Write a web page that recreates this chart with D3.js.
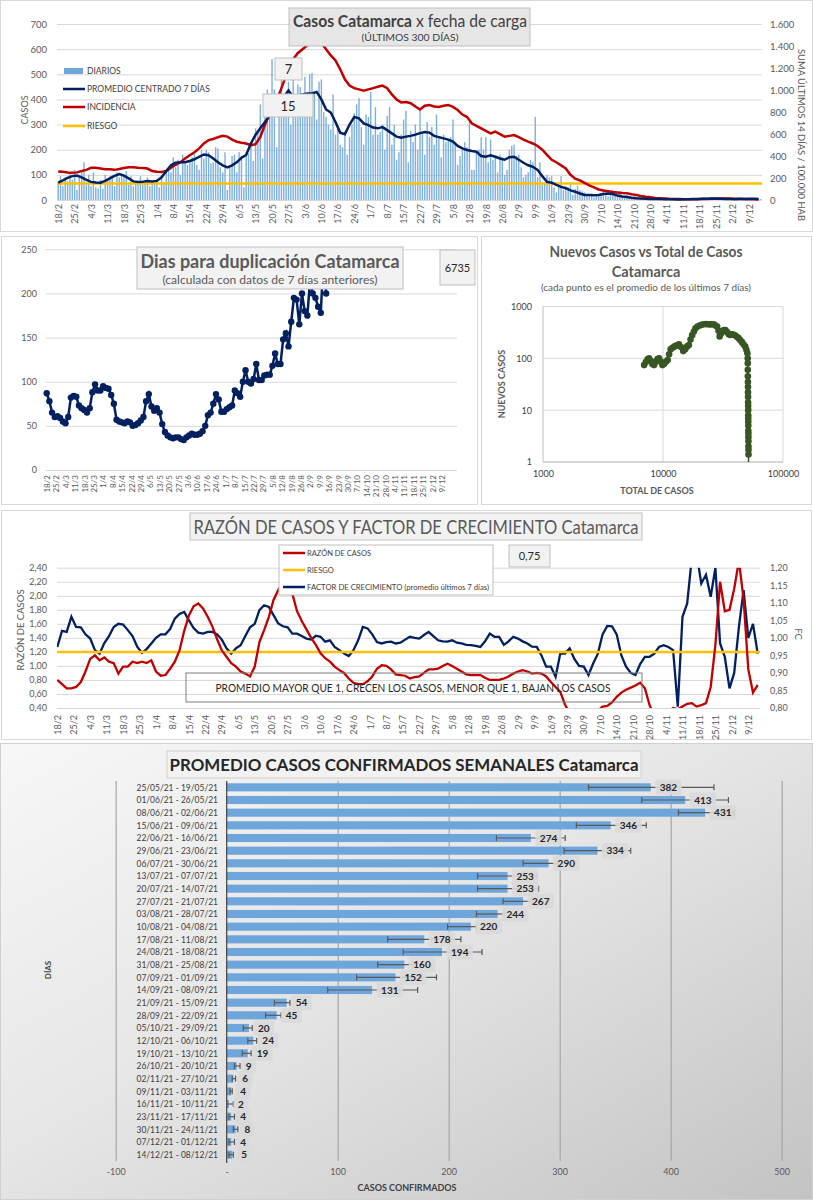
<!DOCTYPE html>
<html><head><meta charset="utf-8">
<script src="https://cdn.jsdelivr.net/npm/d3@7"></script>
<style>body{margin:0;background:#fff;overflow:hidden}svg{display:block}</style>
</head><body>
<svg id="chart" width="813" height="1200"></svg>
<script>
// ================= DATA =================
const dateTicks = ["18/2","25/2","4/3","11/3","18/3","25/3","1/4","8/4","15/4","22/4","29/4","6/5","13/5","20/5","27/5","3/6","10/6","17/6","24/6","1/7","8/7","15/7","22/7","29/7","5/8","12/8","19/8","26/8","2/9","9/9","16/9","23/9","30/9","7/10","14/10","21/10","28/10","4/11","11/11","18/11","25/11","2/12","9/12"];

// daily cases, 18/2 .. 14/12 (300 days)
const diarios = [
70,95,55,90,75,105,80, 120,40,95,110,150,60,100, 55,110,50,45,80,45,100, 85,95,100,55,110,90,105,
100,115,60,95,55,75,70, 95,60,70,90,55,75,65, 85,50,95,70,120,130,110, 170,130,160,100,180,150,140,
150,170,185,140,120,200,165, 200,190,145,150,210,205,130, 110,190,40,130,175,180,110, 190,175,50,190,185,230,155,
285,270,380,165,420,440,360, 560,440,210,430,480,380,370, 470,300,500,330,460,450,350, 490,330,500,505,430,320,470,
480,350,330,300,280,420,260, 290,220,210,260,180,250,300, 345,380,405,290,220,340,330, 430,260,370,260,270,300,200,
335,370,220,300,160,190,260, 320,355,150,275,230,300,200, 360,270,180,310,250,290,220, 340,250,170,260,230,240,250,
320,230,140,175,200,230,210, 310,120,120,190,200,250,200, 250,150,240,160,170,110,180, 170,100,120,200,215,220,175,
180,130,90,100,110,160,150, 330,90,150,60,70,100,90, 95,50,30,60,95,40,55, 50,70,20,45,55,40,35,
30,15,20,25,10,18,20, 20,35,25,15,30,40,20, 25,35,15,10,20,15,12, 10,8,12,5,10,8,6,
6,5,8,3,7,4,5, 4,3,5,2,6,3,4, 2,1,3,2,4,5,3, 4,6,3,5,8,10,7, 12,8,6,10,5,7,4, 3,5,4,2,6,4,5, 6,4,7,3,5,4];

// centred 7-day average, one value every 2 days (day 0,2,4,...)
const promedio7 = [69,78,88,95,97,90,80,72,70,69, 76,86,96,103,97,86,74,72,73,76, 74,76,90,115,138,148,150,150,155,162,
172,181,178,165,150,138,130,138,150,168, 179,225,260,285,310,336,350,375,410,435, 410,416,420,424,424,430,400,360,348,310,
268,262,300,330,325,305,298,288,285,290, 278,265,252,248,252,255,260,266,270,268, 255,250,245,240,232,215,205,199,195,192,
175,172,178,172,165,160,170,172,160,148, 138,132,120,95,72,69,60,52,47,38, 33,26,20,20,19,20,24,26,24,18,
14,12,9,7,6,5,4,4,4,3, 3,3,2,3,3,4,4,5,5,6, 5,5,4,4,3,4,4,5,5,4];

// incidence: 14-day sum per 100.000 inhabitants, every 2 days
const incidencia = [258,256,251,247,251,263,274,293,293,286, 279,279,274,281,290,297,297,293,290,286, 263,256,254,263,293,320,343,377,407,434,
469,514,544,555,571,583,576,549,530,521, 514,498,507,571,686,777,857,960,1074,1189, 1280,1337,1371,1406,1440,1463,1429,1371,1314,1269,
1189,1097,1040,1017,1006,994,1006,1017,1029,1040, 1017,960,914,887,891,880,850,823,857,864, 850,846,857,864,846,818,777,754,697,674,
651,629,606,622,599,576,583,590,571,549, 530,514,491,457,411,366,343,315,286,229, 194,178,155,133,114,96,87,80,73,69,
64,62,53,46,37,30,25,18,16,14, 11,9,9,7,7,7,7,9,9,11, 14,14,14,14,11,11,9,7,7,5];
const riesgoIncidencia = 150;
const topCallouts = ["7","15"];

// doubling days (every 2 days, until 15/9)
const duplicacion = [87,78,65,60,61,59,55,53,60,82, 84,83,73,70,68,65,70,88,97,90, 90,95,93,92,85,75,57,55,54,53,
55,54,50,51,53,56,60,78,86,72, 67,70,65,52,43,39,37,36,37,37, 35,34,37,39,41,40,40,41,44,50,
62,65,75,86,80,66,66,69,71,73, 90,87,83,100,113,100,98,103,120,102, 102,107,108,108,118,132,120,120,148,155,
140,168,195,193,165,200,180,175,215,200, 195,185,178,240,200];
const duplicacionUltimo = "6735";

// new cases (7-day mean) vs total cases
const scatterTotal = [6960,7200,7450,7650,7900,8150,8420,8700,9000,9270, 9550,9890,10200,10600,10940,11250,11580,12000,12500,13000,
13570,14100,14750,15300,15900,16420,16960,17500,18100,18650, 19400,20200,21000,21850,22800,23700,24600,25500,26450,27300,
28250,29000,29670,30500,31500,32300,33100,34200,35300,36400, 37600,38800,40000,41300,42600,44000,45500,47000,48500,49600,
50500,50800,50850,50900,50950,51000,51050,51100,51150,51200, 51250,51280,51310,51340,51370,51400,51430,51460,51490,51520,
51550,51580,51600,51620];
const scatterNew = [74,85,96,100,90,78,74,85,97,100, 88,74,78,86,93,120,150,160,170,178, 186,165,138,150,170,181,230,280,330,380,
410,430,445,455,458,455,452,455,455,430, 410,340,265,300,340,350,353,320,290,283, 290,285,275,260,245,226,205,185,168,145,
125,100,80,60,45,35,28,22,18,14, 12,10,8,7,6,5,4,3.5,3,2.5, 2,1.7,1.4,0.8];

// razón de casos (left axis) and factor de crecimiento (right axis), every 2 days
const razon = [0.80,0.74,0.68,0.68,0.70,0.77,0.92,1.10,1.15,1.08, 1.12,1.06,1.04,0.89,0.99,0.99,1.06,1.04,1.06,1.04,
1.08,0.92,0.86,0.87,0.96,1.06,1.22,1.50,1.72,1.85, 1.89,1.82,1.70,1.56,1.38,1.22,1.13,1.04,0.99,0.92,
0.89,0.85,0.99,1.34,1.51,1.70,1.94,2.08,2.20,2.10, 2.03,1.78,1.64,1.52,1.40,1.30,1.18,1.11,1.06,0.99,
0.94,0.90,0.82,0.76,0.74,0.74,0.78,0.85,0.96,1.01, 1.00,0.95,0.88,0.87,0.86,0.82,0.84,0.85,0.90,0.95,
0.95,0.96,1.00,1.03,1.00,0.96,0.92,0.88,0.87,0.87, 0.87,0.83,0.80,0.80,0.80,0.82,0.85,0.89,0.92,0.94,
0.92,0.89,0.90,0.89,0.85,0.77,0.70,0.63,0.45,0.32, 0.25,0.22,0.20,0.25,0.30,0.36,0.42,0.43,0.48,0.56,
0.62,0.66,0.69,0.72,0.76,0.68,0.44,0.30,0.25,0.28, 0.35,0.40,0.38,0.42,0.46,0.47,0.42,0.44,0.47,0.70,
1.30,2.20,1.78,1.80,2.10,2.50,1.95,0.95,0.62,0.73];
const factor = [0.974,1.020,1.017,1.060,1.031,1.030,1.010,0.998,0.965,0.955, 0.985,1.005,1.031,1.040,1.038,1.022,1.005,0.975,0.957,0.968,
0.984,1.000,1.010,1.010,1.025,1.055,1.068,1.074,1.050,1.028, 1.015,1.012,1.017,1.017,1.010,0.995,0.970,0.955,0.970,0.979,
1.005,1.030,1.040,1.079,1.093,1.088,1.065,1.041,1.033,1.030, 1.012,1.012,1.005,0.998,0.995,1.006,1.003,0.989,0.993,0.974,
0.965,0.955,0.948,0.965,0.993,1.031,1.027,1.010,0.988,0.984, 0.988,0.989,0.984,0.986,0.995,1.003,1.000,0.998,1.008,1.017,
1.005,0.993,0.990,0.989,0.993,0.986,0.984,0.980,0.979,0.977, 0.974,0.990,1.012,1.003,1.003,0.980,0.990,1.003,0.998,0.990,
0.984,0.975,0.974,0.950,0.918,0.918,0.889,0.955,0.955,0.970, 0.940,0.920,0.918,0.894,0.927,0.955,1.010,1.034,1.033,1.010,
0.950,0.918,0.900,0.894,0.925,0.946,0.946,0.955,0.974,0.979, 0.974,0.965,0.804,1.060,1.098,1.230,1.240,1.155,1.180,1.117,
1.200,0.984,0.946,0.856,0.900,1.031,1.136,1.000,1.040,0.955];
const riesgoRazon = 1.2;
const razonUltimo = "0,75";

// weekly averages
const semanas = ["25/05/21 - 19/05/21","01/06/21 - 26/05/21","08/06/21 - 02/06/21","15/06/21 - 09/06/21","22/06/21 - 16/06/21","29/06/21 - 23/06/21","06/07/21 - 30/06/21","13/07/21 - 07/07/21","20/07/21 - 14/07/21","27/07/21 - 21/07/21","03/08/21 - 28/07/21","10/08/21 - 04/08/21","17/08/21 - 11/08/21","24/08/21 - 18/08/21","31/08/21 - 25/08/21","07/09/21 - 01/09/21","14/09/21 - 08/09/21","21/09/21 - 15/09/21","28/09/21 - 22/09/21","05/10/21 - 29/09/21","12/10/21 - 06/10/21","19/10/21 - 13/10/21","26/10/21 - 20/10/21","02/11/21 - 27/10/21","09/11/21 - 03/11/21","16/11/21 - 10/11/21","23/11/21 - 17/11/21","30/11/21 - 24/11/21","07/12/21 - 01/12/21","14/12/21 - 08/12/21"];
const promSemanal = [382,413,431,346,274,334,290,253,253,267,244,220,178,194,160,152,131,54,45,20,24,19,9,6,4,2,4,8,4,5];
const minSemanal = [326,374,407,315,243,304,267,226,226,249,225,199,145,159,136,117,91,43,35,15,19,14,7,5,3,0,2,6,2,2];
const maxSemanal = [439,452,457,378,305,364,298,279,281,275,250,225,211,230,168,189,172,57,49,23,27,22,12,8,5,6,7,10,7,6];

// ================= DRAW =================
const svg = d3.select('#chart');
const FONT = 'Lato, "Open Sans", "DejaVu Sans", sans-serif';
svg.attr('font-family', FONT);
const NAVY='#002060', RED='#c00000', ORANGE='#ffc000', BLUE='#5b9bd5', GRID='#d9d9d9', TXT='#595959', DARK='#404040';
const loc = d3.formatLocale({decimal:",",thousands:".",grouping:[3],currency:["",""]});
const tickDays = dateTicks.map((d,i)=>i*7);

function clean(s){ s.select('.domain').remove(); s.selectAll('.tick line').remove(); }
function gridH(g, scale, vals, x0, x1, col){
  g.append('g').attr('transform',`translate(${x0},0)`)
   .call(d3.axisLeft(scale).tickValues(vals).tickSize(-(x1-x0)).tickFormat(''))
   .call(s=>{s.select('.domain').remove(); s.selectAll('line').attr('stroke',col||GRID);});
}
function txt(g,t,x,y,o={}){
  const e=g.append('text').attr('x',x).attr('y',y).text(t)
    .attr('font-size',o.size||9).attr('fill',o.fill||TXT).attr('text-anchor',o.anchor||'middle');
  if(o.bold) e.attr('font-weight','bold');
  if(o.rot) e.attr('transform',`rotate(${o.rot},${x},${y})`);
  if(o.len) e.attr('textLength',o.len).attr('lengthAdjust','spacingAndGlyphs');
  if(o.dy) e.attr('dy',o.dy);
  return e;
}
function rect(g,x,y,w,h,fill,stroke,sw){
  return g.append('rect').attr('x',x).attr('y',y).attr('width',w).attr('height',h)
   .attr('fill',fill).attr('stroke',stroke||'none').attr('stroke-width',sw||1);
}
function dateAxis(g, x, y0, size){
  g.append('g').attr('transform',`translate(0,${y0})`)
   .call(d3.axisBottom(x).tickValues(tickDays).tickFormat((d,i)=>dateTicks[i]).tickSize(0))
   .call(clean)
   .selectAll('text').attr('transform','rotate(-90)').attr('text-anchor','end')
   .attr('x',-3).attr('y',0).attr('dy','0.35em').attr('font-size',size).attr('fill',TXT).attr('font-family',FONT);
}
const defs = svg.append('defs');

// ---------- PANEL 1 ----------
{
  const g = svg.append('g');
  rect(g,0.5,0.5,812,231,'#fff',GRID);
  const x = d3.scaleLinear().domain([-0.5,299.5]).range([57,762]);
  const yL = d3.scaleLinear().domain([0,700]).range([200,24]);
  const yR = d3.scaleLinear().domain([0,1600]).range([200,24]);
  gridH(g,yL,d3.range(0,701,100),57,762);
  g.append('g').attr('transform','translate(50,0)')
   .call(d3.axisLeft(yL).tickValues(d3.range(0,701,100)).tickSize(0).tickPadding(3)).call(clean)
   .selectAll('text').attr('font-size',9.5).attr('fill',TXT).attr('font-family',FONT);
  g.append('g').attr('transform','translate(768,0)')
   .call(d3.axisRight(yR).tickValues(d3.range(0,1601,200)).tickSize(0).tickPadding(2).tickFormat(loc.format(','))).call(clean)
   .selectAll('text').attr('font-size',9.5).attr('fill',TXT).attr('font-family',FONT);
  dateAxis(g,x,201,9);
  g.append('g').selectAll('rect').data(diarios).join('rect')
   .attr('x',(d,i)=>x(i)-0.7).attr('width',1.4).attr('y',d=>yL(d)).attr('height',d=>yL(0)-yL(d))
   .attr('fill','#6fa6db').attr('opacity',0.9);
  g.append('line').attr('x1',57).attr('x2',762).attr('y1',yR(riesgoIncidencia)).attr('y2',yR(riesgoIncidencia))
   .attr('stroke',ORANGE).attr('stroke-width',2.5);
  g.append('path').datum(incidencia.map((v,i)=>[i*2,v]))
   .attr('d',d3.line().x(d=>x(d[0])).y(d=>yR(d[1]))).attr('fill','none').attr('stroke',RED).attr('stroke-width',2.5);
  g.append('path').datum(promedio7.map((v,i)=>[i*2,v]))
   .attr('d',d3.line().x(d=>x(d[0])).y(d=>yL(d[1]))).attr('fill','none').attr('stroke',NAVY).attr('stroke-width',2.5);
  // legend
  const ly=[71,89,107,126];
  rect(g,64,68,19,6,'#6fa6db');
  [[NAVY,1],[RED,2],[ORANGE,3]].forEach(([c,i])=>g.append('line').attr('x1',63).attr('x2',85).attr('y1',ly[i]).attr('y2',ly[i]).attr('stroke',c).attr('stroke-width',2.5));
  ['DIARIOS','PROMEDIO CENTRADO 7 DÍAS','INCIDENCIA','RIESGO'].forEach((t,i)=>txt(g,t,87,ly[i]+3,{anchor:'start',size:8.5,fill:DARK}));
  txt(g,'CASOS',25,110,{rot:-90,size:9,dy:'0.35em'});
  txt(g,'SUMA  ÚLTIMOS 14 DÍAS / 100.000 HAB',801,135,{rot:90,size:9.5,dy:'0.35em',len:172});
  // title
  rect(g,289,8,241,38,'#e7e6e6','#bfbfbf');
  const t = g.append('text').attr('x',410).attr('y',27).attr('text-anchor','middle').attr('font-size',17).attr('fill',DARK)
    .attr('textLength',234).attr('lengthAdjust','spacingAndGlyphs');
  t.append('tspan').attr('font-weight','bold').text('Casos  Catamarca');
  t.append('tspan').text('  x  fecha  de  carga');
  txt(g,'(ÚLTIMOS 300 DÍAS)',410,41,{size:10,fill:DARK,len:97});
  rect(g,275,58,27,22,'#f2f2f2','#bfbfbf');
  txt(g,topCallouts[0],288.5,74,{size:13,fill:'#262626'});
  rect(g,263,94,50,23,'#f2f2f2','#bfbfbf');
  txt(g,topCallouts[1],288,110.5,{size:13,fill:'#262626'});
}

// ---------- PANEL 2 ----------
{
  const g = svg.append('g');
  rect(g,1.5,236.5,476,268,'#fff',GRID);
  const x = d3.scaleLinear().domain([0,294]).range([46.7,441.7]);
  const y = d3.scaleLinear().domain([0,250]).range([470,249.3]);
  gridH(g,y,d3.range(0,251,50),46,457);
  g.append('g').attr('transform','translate(40,0)')
   .call(d3.axisLeft(y).tickValues(d3.range(0,251,50)).tickSize(0).tickPadding(3)).call(clean)
   .selectAll('text').attr('font-size',9).attr('fill',TXT).attr('font-family',FONT);
  dateAxis(g,x,472,8);
  const pts = duplicacion.map((v,i)=>[i*2,v]);
  g.append('path').datum(pts).attr('d',d3.line().x(d=>x(d[0])).y(d=>y(d[1])))
   .attr('fill','none').attr('stroke',NAVY).attr('stroke-width',2.5);
  g.append('g').selectAll('circle').data(pts).join('circle')
   .attr('cx',d=>x(d[0])).attr('cy',d=>y(d[1])).attr('r',3.2).attr('fill',NAVY);
  rect(g,137,247,266,42,'#f2f2f2','#bfbfbf');
  txt(g,'Dias para duplicación Catamarca',270,268,{size:18,bold:true,fill:TXT,len:259});
  txt(g,'(calculada con datos de 7 días anteriores)',270,284,{size:11,fill:TXT,len:215});
  rect(g,440,250,35,35,'#f2f2f2','#bfbfbf');
  txt(g,duplicacionUltimo,457.5,271.5,{size:11,fill:'#262626'});
}

// ---------- PANEL 3 ----------
{
  const g = svg.append('g');
  rect(g,481.5,236.5,330,268,'#fff',GRID);
  const x = d3.scaleLog().domain([1000,100000]).range([543,783]);
  const y = d3.scaleLog().domain([1,1000]).range([462,306.5]);
  [1,10,100,1000].forEach(v=>g.append('line').attr('x1',543).attr('x2',783).attr('y1',y(v)).attr('y2',y(v)).attr('stroke',GRID));
  [10000,100000].forEach(v=>g.append('line').attr('x1',x(v)).attr('x2',x(v)).attr('y1',306.5).attr('y2',462).attr('stroke',GRID));
  g.append('line').attr('x1',543).attr('x2',543).attr('y1',306.5).attr('y2',462).attr('stroke','#bfbfbf');
  g.append('line').attr('x1',543).attr('x2',783).attr('y1',462).attr('y2',462).attr('stroke','#bfbfbf');
  g.append('g').attr('transform','translate(535,0)')
   .call(d3.axisLeft(y).tickValues([1,10,100,1000]).tickFormat(d3.format('d')).tickSize(0).tickPadding(3)).call(clean)
   .selectAll('text').attr('font-size',9).attr('fill',DARK).attr('font-family',FONT);
  g.append('g').attr('transform','translate(0,468)')
   .call(d3.axisBottom(x).tickValues([1000,10000,100000]).tickFormat(d3.format('d')).tickSize(0).tickPadding(3)).call(clean)
   .selectAll('text').attr('font-size',9).attr('fill',DARK).attr('font-family',FONT);
  const pts = scatterTotal.map((t,i)=>[t,scatterNew[i]]);
  defs.append('clipPath').attr('id','clip3').append('rect').attr('x',540).attr('y',300).attr('width',246).attr('height',162);
  const pg = g.append('g').attr('clip-path','url(#clip3)');
  pg.append('path').datum(pts).attr('d',d3.line().x(d=>x(d[0])).y(d=>y(Math.max(d[1],0.5))))
   .attr('fill','none').attr('stroke','#375623').attr('stroke-width',1.5);
  pg.selectAll('circle').data(pts.filter(d=>d[1]>=1)).join('circle')
   .attr('cx',d=>x(d[0])).attr('cy',d=>y(d[1])).attr('r',3.3).attr('fill','#375623');
  txt(g,'Nuevos Casos vs Total de Casos',646,257,{size:14.5,bold:true,fill:TXT,len:193});
  txt(g,'Catamarca',646,276.5,{size:14.5,bold:true,fill:TXT});
  txt(g,'(cada punto es el promedio de los últimos 7 días)',646,291,{size:9.5,fill:TXT,len:210});
  txt(g,'TOTAL DE CASOS',657,494,{size:9,bold:true,fill:TXT});
  txt(g,'NUEVOS CASOS',502,384,{size:9,bold:true,fill:TXT,rot:-90,dy:'0.35em'});
}

// ---------- PANEL 4 ----------
{
  const g = svg.append('g');
  rect(g,1.5,510.5,810,229,'#fff',GRID);
  const x = d3.scaleLinear().domain([0,294]).range([57.3,748.3]);
  const yL = d3.scaleLinear().domain([0.4,2.4]).range([708,567.7]);
  const yR = d3.scaleLinear().domain([0.8,1.2]).range([708,567.7]);
  gridH(g,yL,d3.range(0.4,2.41,0.2),57,760);
  g.append('g').attr('transform','translate(50,0)')
   .call(d3.axisLeft(yL).tickValues(d3.range(0.4,2.41,0.2)).tickFormat(loc.format('.2f')).tickSize(0).tickPadding(3)).call(clean)
   .selectAll('text').attr('font-size',9).attr('fill',TXT).attr('font-family',FONT);
  g.append('g').attr('transform','translate(767,0)')
   .call(d3.axisRight(yR).tickValues(d3.range(0.8,1.201,0.05)).tickFormat(loc.format('.2f')).tickSize(0).tickPadding(3)).call(clean)
   .selectAll('text').attr('font-size',9).attr('fill',TXT).attr('font-family',FONT);
  dateAxis(g,x,712,9);
  txt(g,'RAZÓN DE CASOS',21,630,{rot:-90,size:9.5,dy:'0.35em'});
  txt(g,'FC',798,634,{rot:90,size:9.5,dy:'0.35em'});
  defs.append('clipPath').attr('id','clip4').append('rect').attr('x',57).attr('y',567.7).attr('width',705).attr('height',140.3);
  const pg = g.append('g').attr('clip-path','url(#clip4)');
  pg.append('path').datum(factor.map((v,i)=>[i*2,v])).attr('d',d3.line().x(d=>x(d[0])).y(d=>yR(d[1])))
   .attr('fill','none').attr('stroke',NAVY).attr('stroke-width',2.3);
  pg.append('line').attr('x1',57).attr('x2',760).attr('y1',yL(riesgoRazon)).attr('y2',yL(riesgoRazon)).attr('stroke',ORANGE).attr('stroke-width',2.5);
  pg.append('path').datum(razon.map((v,i)=>[i*2,v])).attr('d',d3.line().x(d=>x(d[0])).y(d=>yL(d[1])))
   .attr('fill','none').attr('stroke',RED).attr('stroke-width',2.3);
  // legend
  rect(g,279,545,214,50,'#fff','#bfbfbf');
  const ly=[553,570,587];
  [RED,ORANGE,NAVY].forEach((c,i)=>g.append('line').attr('x1',283).attr('x2',305).attr('y1',ly[i]).attr('y2',ly[i]).attr('stroke',c).attr('stroke-width',2.5));
  txt(g,'RAZÓN DE CASOS',307,ly[0]+2.5,{anchor:'start',size:7.5,fill:DARK});
  txt(g,'RIESGO',307,ly[1]+2.5,{anchor:'start',size:7.5,fill:DARK});
  txt(g,'FACTOR DE CRECIMIENTO (promedio últimos 7 días)',307,ly[2]+2.5,{anchor:'start',size:7.5,fill:DARK,len:182});
  rect(g,190,513,452,27,'#f2f2f2','#bfbfbf');
  txt(g,'RAZÓN DE CASOS Y FACTOR DE CRECIMIENTO Catamarca',416,533.5,{size:20,fill:TXT,len:445});
  rect(g,509,545,41,22,'#f2f2f2','#bfbfbf');
  txt(g,razonUltimo,529.5,560,{size:11,fill:'#262626'});
  rect(g,186,673,456,29,'none','#7f7f7f');
  txt(g,'PROMEDIO MAYOR QUE 1, CRECEN LOS CASOS, MENOR QUE 1, BAJAN LOS CASOS',413,692,{size:11.5,fill:'#262626',len:395});
}

// ---------- PANEL 5 ----------
{
  const g = svg.append('g');
  const grad = defs.append('linearGradient').attr('id','bg5').attr('x1','0').attr('y1','0').attr('x2','1').attr('y2','1');
  grad.append('stop').attr('offset','0%').attr('stop-color','#f7f7f7');
  grad.append('stop').attr('offset','45%').attr('stop-color','#e6e6e6');
  grad.append('stop').attr('offset','100%').attr('stop-color','#c3c3c3');
  rect(g,0.5,743.5,812,456,'url(#bg5)','#d0d0d0');
  const x = d3.scaleLinear().domain([-100,500]).range([115.7,781.7]);
  const y = d3.scaleBand().domain(semanas).range([781,1161]).paddingInner(0.36).paddingOuter(0.18);
  g.append('g').attr('transform','translate(0,1161)')
   .call(d3.axisBottom(x).tickValues([-100,100,200,300,400,500]).tickSize(-380).tickFormat(''))
   .call(s=>{s.select('.domain').remove(); s.selectAll('line').attr('stroke','#a6a6a6').attr('stroke-width',1.2);});
  g.append('g').attr('transform','translate(0,1166)')
   .call(d3.axisBottom(x).tickValues([-100,0,100,200,300,400,500]).tickSize(0).tickPadding(3).tickFormat(d=>d===0?'-':d)).call(clean)
   .selectAll('text').attr('font-size',9).attr('fill',TXT).attr('font-family',FONT);
  g.append('g').selectAll('rect').data(promSemanal).join('rect')
   .attr('x',x(0)).attr('y',(d,i)=>y(semanas[i])).attr('height',y.bandwidth()).attr('width',d=>x(d)-x(0))
   .attr('fill','#6ea6dc');
  g.append('line').attr('x1',x(0)).attr('x2',x(0)).attr('y1',781).attr('y2',1163).attr('stroke','#404040').attr('stroke-width',1.2);
  semanas.forEach((s,i)=>txt(g,s,218,y(s)+y.bandwidth()/2+3.3,{anchor:'end',size:9.5,fill:DARK,len:81.5}));
  // error bars
  const eg = g.append('g').attr('stroke','#595959').attr('stroke-width',1.2);
  semanas.forEach((s,i)=>{
    const cy = y(s)+y.bandwidth()/2;
    eg.append('line').attr('x1',x(minSemanal[i])).attr('x2',x(maxSemanal[i])).attr('y1',cy).attr('y2',cy);
    [minSemanal[i],maxSemanal[i]].forEach(v=>eg.append('line').attr('x1',x(v)).attr('x2',x(v)).attr('y1',cy-3).attr('y2',cy+3));
  });
  // labels
  semanas.forEach((s,i)=>{
    const cy = y(s)+y.bandwidth()/2;
    const t = txt(g,promSemanal[i],0,cy+3.5,{size:10,bold:true,fill:'#262626',anchor:'start'});
    const w = t.node().getComputedTextLength();
    const bx = x(promSemanal[i])+4.5;
    g.insert('rect',()=>t.node()).attr('x',bx).attr('y',cy-7.5).attr('width',w+9).attr('height',15).attr('rx',2).attr('fill','#d9d9d9').attr('opacity',0.9);
    t.attr('x',bx+4.5);
  });
  txt(g,'DÍAS',48,970,{rot:-90,size:8,bold:true,fill:DARK,dy:'0.35em'});
  txt(g,'CASOS CONFIRMADOS',407,1191,{size:9,bold:true,fill:DARK});
  rect(g,167,751,474,27,'#f2f2f2','#d0d0d0');
  txt(g,'PROMEDIO CASOS CONFIRMADOS SEMANALES Catamarca',404,771,{size:17,bold:true,fill:'#262626',len:469});
}
</script>
</body></html>
